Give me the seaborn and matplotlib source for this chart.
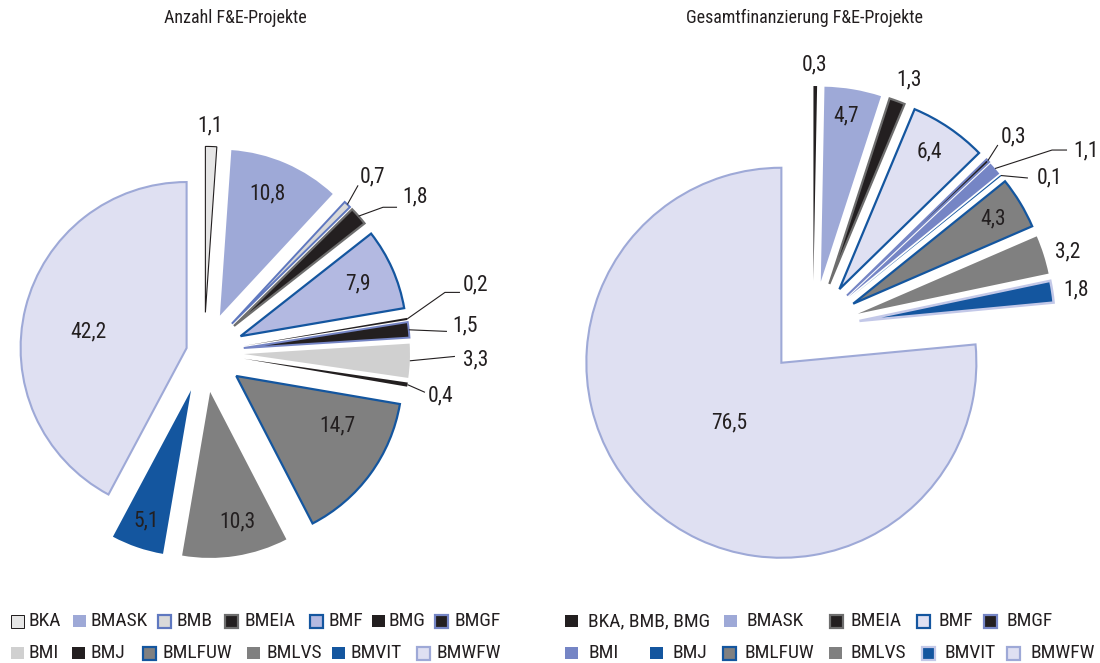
import matplotlib
matplotlib.use("Agg")
import matplotlib.pyplot as plt
from matplotlib.patches import Rectangle
import numpy as np
import seaborn as sns

# ---- data (shares in percent) ----
titles = ["Anzahl F&E-Projekte", "Gesamtfinanzierung F&E-Projekte"]

count_categories = ["BKA", "BMASK", "BMB", "BMEIA", "BMF", "BMG", "BMGF",
                    "BMI", "BMJ", "BMLFUW", "BMLVS", "BMVIT", "BMWFW"]
count_values = [1.1, 10.8, 0.7, 1.8, 7.9, 0.2, 1.5, 3.3, 0.4, 14.7, 10.3, 5.1, 42.2]

funding_categories = ["BKA, BMB, BMG", "BMASK", "BMEIA", "BMF", "BMGF", "BMI",
                      "BMJ", "BMLFUW", "BMLVS", "BMVIT", "BMWFW"]
funding_values = [0.3, 4.7, 1.3, 6.4, 0.3, 1.1, 0.1, 4.3, 3.2, 1.8, 76.5]

# ---- styling ----
sns.set_theme(style="white")
plt.rcParams["font.family"] = ["Roboto Condensed", "DejaVu Sans"]

INK = "#231f20"
BLUE = "#14569f"
GREY = "#808080"
PERI = "#9ea9d7"
LAV = "#dfe0f2"
MAUVE = "#7585c5"

# face colour, edge colour, edge width (pt)
count_style = {
    "BKA": ("#e6e6e6", INK, 0.8),
    "BMASK": (PERI, None, 0),
    "BMB": ("#d9d9d9", "#5f78c0", 1.4),
    "BMEIA": (INK, "#6e6e6e", 1.6),
    "BMF": ("#b3b9e1", BLUE, 1.6),
    "BMG": (INK, None, 0),
    "BMGF": (INK, MAUVE, 1.4),
    "BMI": ("#d0d0d0", None, 0),
    "BMJ": (INK, None, 0),
    "BMLFUW": (GREY, BLUE, 1.6),
    "BMLVS": (GREY, None, 0),
    "BMVIT": (BLUE, None, 0),
    "BMWFW": (LAV, PERI, 1.5),
}
funding_style = {
    "BKA, BMB, BMG": (INK, None, 0),
    "BMASK": (PERI, None, 0),
    "BMEIA": (INK, "#6e6e6e", 1.6),
    "BMF": (LAV, BLUE, 1.6),
    "BMGF": (INK, MAUVE, 1.4),
    "BMI": (MAUVE, None, 0),
    "BMJ": (BLUE, None, 0),
    "BMLFUW": (GREY, BLUE, 1.6),
    "BMLVS": (GREY, None, 0),
    "BMVIT": (BLUE, "#c3c8e8", 1.8),
    "BMWFW": (LAV, PERI, 1.5),
}

# explosion as a fraction of the radius
count_explode = {"BMWFW": 0.108}
funding_explode = {}
DEFAULT_EXPLODE = 0.241

# label placement: ("in", radius fraction, angle shift) |
# ("free", dx, dy from slice tip) | ("lead", ex, ey, elbow, tx, ty)
count_labels = {
    "BKA": ("free", -1, 21),
    "BMASK": ("in", 0.79, 2),
    "BMB": ("lead", 10.7, 19.1, 0, 2, 8.3),
    "BMEIA": ("lead", 24.5, 8.9, 14, 5, 10.5),
    "BMF": ("in", 0.77, 0),
    "BMG": ("lead", 37.7, 26.5, 15, 3, 7.5),
    "BMGF": ("lead", 38.2, -1.6, 0, 5, 5),
    "BMI": ("lead", 45.1, 4.4, 0, 8, -3.5),
    "BMJ": ("lead", 17.5, -7.7, 0, 3, -3.5),
    "BMLFUW": ("in", 0.68, 10),
    "BMLVS": ("in", 0.80, 3),
    "BMVIT": ("in", 0.83, 0),
    "BMWFW": ("in", 0.60, 5),
}
funding_labels = {
    "BKA, BMB, BMG": ("free", -1, 21),
    "BMASK": ("in", 0.86, 1),
    "BMEIA": ("free", 12, 21),
    "BMF": ("in", 0.84, 1),
    "BMGF": ("lead", 10, 15.7, 0, 3, 8),
    "BMI": ("lead", 57, 18.5, 15, 6, -0.5),
    "BMJ": ("lead", 27, -2.5, 0, 9, 0),
    "BMLFUW": ("in", 0.84, 0),
    "BMLVS": ("free", 24.5, 2.7),
    "BMVIT": ("free", 24, 1.6),
    "BMWFW": ("in", 0.41, 1.6),
}

W, H = 1100, 663
fig = plt.figure(figsize=(W / 100, H / 100), dpi=100)
ax = fig.add_axes([0, 0, 1, 1])

LABEL_SIZE = 15.5


def fmt(v):
    return f"{v:.1f}".replace(".", ",")


def draw_pie(cats, vals, style, explode_map, labels, center, radius):
    faces = [style[c][0] for c in cats]
    explode = [explode_map.get(c, DEFAULT_EXPLODE) * radius for c in cats]
    wedges, _ = ax.pie(vals, explode=explode, startangle=90, counterclock=False,
                       colors=faces, center=center, radius=radius,
                       wedgeprops=dict(linewidth=0))
    for w, c, v in zip(wedges, cats, vals):
        face, edge, lw = style[c]
        if edge is not None:
            w.set_edgecolor(edge)
            w.set_linewidth(lw)
            w.set_joinstyle("miter")
        mid = np.deg2rad((w.theta1 + w.theta2) / 2)
        cx, cy = w.center
        tip = np.array([cx + w.r * np.cos(mid), cy + w.r * np.sin(mid)])
        spec = labels[c]
        if spec[0] == "in":
            a = mid + np.deg2rad(spec[2])
            ax.text(cx + spec[1] * w.r * np.cos(a), cy + spec[1] * w.r * np.sin(a),
                    fmt(v), ha="center", va="center", fontsize=LABEL_SIZE, color=INK)
        elif spec[0] == "free":
            ax.text(tip[0] + spec[1], tip[1] + spec[2], fmt(v), ha="center",
                    va="center", fontsize=LABEL_SIZE, color=INK)
        else:
            _, ex, ey, elbow, tx, ty = spec
            e = tip + np.array([ex, ey])
            xs = [tip[0], e[0], e[0] + elbow]
            ys = [tip[1], e[1], e[1]]
            ax.plot(xs, ys, color=INK, lw=0.8, solid_capstyle="butt")
            ax.text(e[0] + elbow + tx, e[1] + ty, fmt(v), ha="left", va="center",
                    fontsize=LABEL_SIZE, color=INK)


draw_pie(count_categories, count_values, count_style, count_explode,
         count_labels, center=(204, H - 352.4), radius=166)
draw_pie(funding_categories, funding_values, funding_style, funding_explode,
         funding_labels, center=(813, H - 328), radius=195)

ax.set_xlim(0, W)
ax.set_ylim(0, H)
ax.set_aspect("equal")
ax.axis("off")

# titles
ax.text(235.5, H - 18, titles[0], ha="center", va="center", fontsize=13, color=INK)
ax.text(805, H - 18, titles[1], ha="center", va="center", fontsize=13, color=INK)

# legends: (category, marker left, text left) per row
count_legend_rows = [
    [("BKA", 10, 29), ("BMASK", 73, 91), ("BMB", 157, 176), ("BMEIA", 224, 244),
     ("BMF", 309, 329), ("BMG", 372, 388), ("BMGF", 434, 454)],
    [("BMI", 11, 29), ("BMJ", 72, 90), ("BMLFUW", 142, 162), ("BMLVS", 247, 266),
     ("BMVIT", 332, 350), ("BMWFW", 416, 436)],
]
funding_legend_rows = [
    [("BKA, BMB, BMG", 565, 588), ("BMASK", 724, 746), ("BMEIA", 829, 850),
     ("BMF", 916, 939), ("BMGF", 983, 1006)],
    [("BMI", 565, 588), ("BMJ", 650, 673), ("BMLFUW", 722, 745),
     ("BMLVS", 829, 850), ("BMVIT", 921, 945), ("BMWFW", 1006, 1030)],
]
ROW_Y = [H - 621, H - 653]


def draw_legend(rows, style):
    for row, y in zip(rows, ROW_Y):
        for cat, mx, tx in row:
            face, edge, lw = style[cat]
            if edge is None:
                s = 12.5
                ax.add_patch(Rectangle((mx, y - s / 2), s, s, facecolor=face,
                                       edgecolor="none"))
            else:
                s = 13
                lwl = 2.2 if lw > 1 else 1.0
                ax.add_patch(Rectangle((mx + 1, y - s / 2), s, s, facecolor=face,
                                       edgecolor=edge, linewidth=lwl * 0.72,
                                       joinstyle="miter"))
            ax.text(tx, y, cat, ha="left", va="center", fontsize=14, color=INK)


draw_legend(count_legend_rows, count_style)
draw_legend(funding_legend_rows, funding_style)

fig.savefig("out.png", dpi=100, facecolor="white")
